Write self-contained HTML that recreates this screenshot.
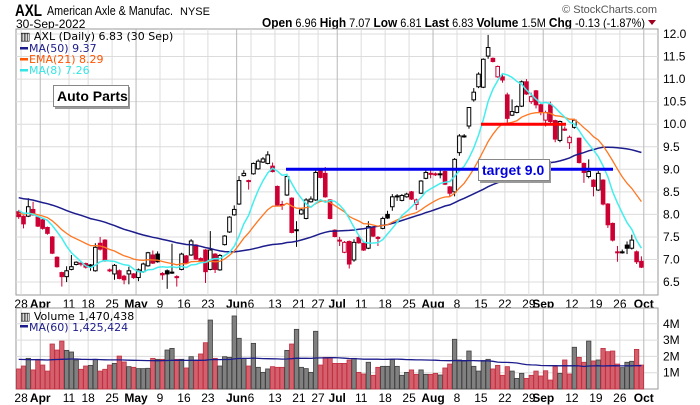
<!DOCTYPE html>
<html><head><meta charset="utf-8"><style>
body{margin:0;background:#fff;}
svg{display:block;font-family:"Liberation Sans",sans-serif;}
</style></head><body>
<svg id="chart" width="700" height="405" viewBox="0 0 700 405">
<rect width="700" height="405" fill="#fff"/>
<g>
<text x="15" y="16" font-size="17" font-weight="bold" fill="#000" textLength="27" lengthAdjust="spacingAndGlyphs">AXL</text>
<text x="47" y="15" font-size="13" fill="#000" textLength="126" lengthAdjust="spacingAndGlyphs">American Axle &amp; Manufac.</text>
<text x="180" y="15" font-size="11" fill="#000">NYSE</text>
<text x="16" y="28" font-size="12" fill="#000">30-Sep-2022</text>
<text x="657" y="13" font-size="11" fill="#555" text-anchor="end">© StockCharts.com</text>
<text x="262" y="27" font-size="12" fill="#000" textLength="383" lengthAdjust="spacingAndGlyphs"><tspan font-weight="bold" font-size="13">Open</tspan> 6.96  <tspan font-weight="bold" font-size="13">High</tspan> 7.07  <tspan font-weight="bold" font-size="13">Low</tspan> 6.81  <tspan font-weight="bold" font-size="13">Last</tspan> 6.83  <tspan font-weight="bold" font-size="13">Volume</tspan> 1.5M  <tspan font-weight="bold" font-size="13">Chg</tspan> -0.13 (-1.87%)</text>
<path d="M648 20 L656 20 L652 25 Z" fill="#a00020"/>
</g>
<g id="price"></g>
<g id="vol"></g>
</svg>
<script>
const opens=[8.06,7.96,7.96,8.11,7.94,7.88,7.71,7.5,7.05,6.71,6.62,6.78,6.89,6.92,6.91,6.88,6.75,7.36,7.43,6.77,6.68,6.75,6.63,6.68,6.68,6.6,6.73,6.86,7.1,7.12,6.69,6.75,6.72,6.62,6.78,7.08,7.1,7.32,7.02,7.21,6.78,7.12,6.77,7.33,7.61,7.99,8.23,8.86,8.75,8.9,9.01,9.16,9.13,9.07,8.62,8.22,8.43,8.36,7.66,8.01,7.91,8.28,8.32,8.98,8.91,8.32,7.65,7.43,7.16,7.4,6.99,7.49,7.36,7.25,7.71,7.49,7.69,8.0,8.17,8.41,8.31,8.39,8.5,8.22,8.47,8.8,8.91,8.9,8.9,8.95,8.61,8.5,9.37,9.74,9.96,10.54,10.83,10.82,11.51,11.46,11.05,11.05,10.65,10.2,10.26,10.4,10.94,10.5,10.74,10.43,10.09,10.43,10.08,9.64,9.89,9.59,9.93,9.69,9.13,8.84,8.76,8.54,8.76,8.23,7.8,7.17,7.17,7.32,7.25,7.17,6.96];
const highs=[8.1,7.98,8.36,8.28,7.96,7.9,7.73,7.52,7.07,6.73,6.85,7.1,6.96,6.97,6.93,6.9,7.36,7.5,7.45,6.8,6.9,6.78,6.66,6.84,6.7,6.8,6.93,7.17,7.2,7.18,6.72,6.78,7.35,6.65,7.15,7.1,7.45,7.34,7.05,7.23,7.63,7.14,7.12,7.54,7.96,8.2,8.85,8.98,8.77,9.15,9.22,9.27,9.4,9.15,8.64,8.3,8.9,8.38,7.85,8.12,8.36,8.4,9.0,9.0,9.05,8.34,7.67,7.5,7.41,7.42,7.45,7.52,7.38,7.85,7.73,7.52,7.95,8.08,8.45,8.45,8.45,8.48,8.52,8.35,8.76,9.0,9.0,8.93,8.98,8.97,8.63,9.25,9.78,9.78,10.38,10.8,11.15,11.46,11.98,11.48,11.3,11.1,10.7,10.55,10.42,10.97,11.0,10.7,10.76,10.45,10.3,10.5,10.1,10.08,9.95,9.75,10.12,9.7,9.15,9.22,8.78,8.96,8.78,8.25,7.82,7.3,7.22,7.4,7.55,7.2,7.07];
const lows=[7.9,7.69,7.94,7.97,7.72,7.66,7.55,7.12,6.82,6.4,6.5,6.76,6.87,6.85,6.8,6.75,6.73,7.2,6.95,6.72,6.55,6.56,6.45,6.45,6.57,6.52,6.7,6.84,6.9,6.93,6.55,6.35,6.68,6.4,6.76,6.9,7.08,6.99,6.95,6.48,6.76,6.7,6.75,7.31,7.59,7.97,8.21,8.84,8.55,8.88,8.99,9.14,9.11,8.93,8.19,8.1,8.41,7.58,7.28,7.99,7.89,8.26,8.3,8.8,8.37,7.89,7.49,7.3,7.14,6.8,6.95,7.35,7.19,7.23,7.5,7.3,7.67,7.9,8.08,8.3,8.29,8.37,8.32,8.1,8.45,8.78,8.8,8.85,8.8,8.65,8.4,8.4,9.3,9.7,9.9,10.5,10.8,10.8,11.45,11.37,11.03,10.92,10.0,10.18,10.24,10.38,10.65,10.45,10.35,10.2,9.95,10.0,9.6,9.6,9.85,9.45,9.9,9.13,8.7,8.8,8.4,8.52,8.2,7.7,7.4,6.95,7.13,7.12,7.22,6.9,6.81];
const closes=[7.95,7.79,8.17,7.99,7.74,7.69,7.58,7.14,6.84,6.62,6.75,6.84,6.94,6.9,6.83,6.84,7.27,7.23,6.97,6.75,6.87,6.58,6.55,6.75,6.6,6.77,6.9,7.15,6.92,6.95,6.66,6.68,6.7,6.61,7.12,6.92,7.41,7.01,6.98,6.73,7.21,6.78,7.09,7.52,7.94,8.11,8.75,8.91,8.73,9.13,9.18,9.23,9.32,8.95,8.21,8.2,8.84,7.6,7.65,8.1,8.32,8.34,8.93,8.82,8.39,7.91,7.51,7.43,7.38,6.9,7.38,7.37,7.21,7.73,7.52,7.49,7.91,7.92,8.39,8.41,8.42,8.45,8.34,8.32,8.74,8.93,8.91,8.9,8.9,8.67,8.47,9.22,9.74,9.74,10.37,10.71,11.11,11.44,11.7,11.39,11.28,10.98,10.13,10.28,10.39,10.94,10.67,10.61,10.43,10.28,10.26,10.06,9.67,10.06,9.89,9.71,10.09,9.15,8.93,8.95,8.62,8.91,8.23,7.77,7.43,7.17,7.17,7.25,7.43,6.95,6.83];
const volumes=[1.23,1.41,1.88,1.17,1.82,1.47,1.1,2.76,2.39,2.94,2.37,2.27,1.78,1.21,1.41,1.45,1.82,1.1,1.21,1.47,1.57,2.02,1.66,1.37,1.33,1.25,1.25,1.27,1.88,1.82,1.82,2.39,2.49,1.82,1.82,1.29,1.98,1.78,2.15,2.84,4.23,1.88,1.41,1.98,1.94,4.48,3.11,1.88,1.41,2.8,1.33,1.02,1.23,1.37,1.33,1.33,2.37,2.76,3.66,1.33,1.25,1.02,3.54,1.47,1.94,1.94,1.57,1.57,1.57,1.78,1.88,1.02,0.92,1.64,0.84,1.33,1.39,1.39,1.8,1.39,0.84,1.02,1.17,0.9,1.17,0.9,0.9,0.96,0.86,1.29,1.53,3.05,1.78,1.72,2.33,1.39,1.1,1.74,1.82,1.23,1.45,0.84,1.37,1.1,0.65,0.96,0.65,0.84,1.1,0.8,1.12,0.55,1.37,0.96,1.78,0.92,2.56,1.94,1.64,2.94,1.72,1.78,2.49,2.29,2.33,1.53,1.31,1.64,1.7,2.43,1.47];
const priorCloses=[8.9,8.8,8.95,9.1,9.0,8.85,8.7,8.6,8.75,8.9,8.8,8.65,8.5,8.6,8.7,8.55,8.4,8.5,8.65,8.8,8.7,8.5,8.3,8.2,8.35,8.5,8.4,8.2,8.0,7.9,7.8,7.95,8.1,8.0,7.85,7.7,7.8,7.95,8.1,8.25,8.2,8.35,8.3,8.15,8.2,8.1,8.0,7.95,8.05];
const priorVolumes=[1.9,2.1,1.7,1.6,2.0,1.8,1.5,1.9,2.2,1.7,1.6,1.8,2.4,1.9,1.7,1.5,1.6,2.0,1.8,1.7,1.9,2.3,2.0,1.6,1.5,1.7,1.8,1.9,2.1,1.6,1.7,1.8,2.0,1.9,1.6,1.5,1.8,2.2,2.5,1.9,1.7,1.6,1.8,1.9,2.0,1.7,1.5,1.6,1.8,2.1,1.9,1.7,1.6,1.8,2.0,1.9,1.7,1.8,1.9];
const tickLabels=["28","Apr","11","18","25","May","9","16","23","Jun","6","13","21","27","Jul","11","18","25","Aug","8","15","22","29","Sep","12","19","26","Oct"];
const tickIndex=[1,5,11,15,20,25,30,35,40,46,49,54,59,63,67,72,77,82,87,92,97,102,107,110,116,121,126,131];
const priceTicks=[6.5,7.0,7.5,8.0,8.5,9.0,9.5,10.0,10.5,11.0,11.5,12.0];
const volTicks=[1,2,3,4];
const supportLevel=10.0, targetLevel=9.0;

const NS="http://www.w3.org/2000/svg";
const X0=18.7, DX=4.79, PL=16, PR=658, PT=29, PB=295, VT=308, VB=389;
const xAt=i=>X0+DX*i;
const yP=p=>34+(12-p)*45.1;
const yV=v=>VB-v*16.3;
function mk(parent,tag,attrs,text){const e=document.createElementNS(NS,tag);for(const k in attrs)e.setAttribute(k,attrs[k]);if(text!==undefined)e.textContent=text;parent.appendChild(e);return e;}
const P=document.getElementById('price'), V=document.getElementById('vol');

for(const [g,t,b] of [[P,PT,PB],[V,VT,VB]]){
  const r=mk(g,'rect',{x:PL,y:t,width:PR-PL,height:b-t,fill:'#fff',stroke:'#999','stroke-width':1});
  
  
}
priceTicks.forEach(p=>{
  const l=mk(P,'line',{x1:PL,x2:PR,y1:yP(p),y2:yP(p),stroke:'#dcdcdc'});
  
  
  const t=mk(P,'text',{x:PR+5,y:yP(p)+4,'font-size':12,fill:'#000'},p.toFixed(1));
  
  
});
volTicks.forEach(v=>{
  const l=mk(V,'line',{x1:PL,x2:PR,y1:yV(v),y2:yV(v),stroke:'#dcdcdc'});
  
  
  const t=mk(V,'text',{x:PR+5,y:yV(v)+4,'font-size':12,fill:'#000'},v+'M');
  
  
});
tickLabels.forEach((lab,k)=>{
  const x=xAt(tickIndex[k])-2.4;
  const month=/[A-Za-z]/.test(lab);
  for(const [g,t,b,ly] of [[P,PT,PB,308],[V,VT,VB,402]]){
    if(x<PR){
      const l=mk(g,'line',{x1:x,x2:x,y1:t,y2:b,stroke:month?'#b8b8b8':'#dcdcdc'});
      
      
    }
    const tx=mk(g,'text',{x:x,y:ly,'font-size':12,'text-anchor':'middle','font-weight':month?'bold':'normal',fill:'#000'},lab);
    
    
  }
});

const allC=priorCloses.concat(closes);
const off=priorCloses.length;
function sma(arr,n,i){let s=0,c=0;for(let j=Math.max(0,i-n+1);j<=i;j++){s+=arr[j];c++;}return s/c;}
const ma50=[],ma8=[],ema21=[];
let e=sma(allC,21,off-1);
const k21=2/22;
closes.forEach((c,i)=>{ma50.push(sma(allC,50,off+i));ma8.push(sma(allC,8,off+i));e=c*k21+e*(1-k21);ema21.push(e);});
function line(g,vals,yf,color,name,w){
  const d=vals.map((v,i)=>(i?'L':'M')+xAt(i).toFixed(1)+' '+yf(v).toFixed(1)).join(' ');
  const p=mk(g,'path',{d:d,fill:'none',stroke:color,'stroke-width':w||1.3});
  
  
}

closes.forEach((c,i)=>{
  const o=opens[i],prev=i?closes[i-1]:opens[0];
  const col=c<prev?'#cc0033':'#000';
  const x=xAt(i);
  const g=mk(P,'g',{});
  
  
  mk(g,'line',{x1:x,x2:x,y1:yP(highs[i]),y2:yP(lows[i]),stroke:col,'stroke-width':1});
  const top=yP(Math.max(o,c)),bot=yP(Math.min(o,c));
  const filled=c<o;
  mk(g,'rect',{x:x-1.8,y:top,width:3.6,height:Math.max(bot-top,1),fill:filled?col:'#fff',stroke:col,'stroke-width':1});
});
line(P,ma50,yP,'#1c1c8c','ma50-line',1.5);
line(P,ema21,yP,'#ff7722','ema21-line',1.3);
line(P,ma8,yP,'#44eeee','ma8-line',1.5);

let hl=mk(P,'line',{x1:286,x2:613,y1:yP(targetLevel),y2:yP(targetLevel),stroke:'#0000ee','stroke-width':3});


hl=mk(P,'line',{x1:481,x2:566,y1:yP(supportLevel),y2:yP(supportLevel),stroke:'#ff0000','stroke-width':3});



const allV=priorVolumes.concat(volumes), offV=priorVolumes.length;
const ma60=volumes.map((v,i)=>sma(allV,60,offV+i));
volumes.forEach((v,i)=>{
  const prev=i?closes[i-1]:opens[0];
  const down=closes[i]<prev;
  const r=mk(V,'rect',{x:xAt(i)-2.2,y:yV(v),width:4.4,height:VB-yV(v),fill:down?'#d4606e':'#808080',stroke:down?'#c03040':'#404040','stroke-width':0.8});
  
  
});
line(V,ma60,yV,'#1c1c8c','volume-ma60-line',1.3);
</script>
<script>
(function(){
const S=document.getElementById('chart');const NS="http://www.w3.org/2000/svg";
function mk(tag,a,t){const e=document.createElementNS(NS,tag);for(const k in a)e.setAttribute(k,a[k]);if(t!==undefined)e.textContent=t;S.appendChild(e);return e;}
const f='"DejaVu Sans",sans-serif';
let e;
e=mk('text',{x:20,y:40,'font-size':11,'font-family':f,fill:'#000'},'▥ AXL (Daily) 6.83 (30 Sep)');


[['MA(50) 9.37','#1c1c8c',52],['EMA(21) 8.29','#ff5500',63],['MA(8) 7.26','#33e5e5',74]].forEach(([t,c,y])=>{
  e=mk('rect',{x:20,y:y-5,width:8,height:2.5,fill:c});
  
  
  e=mk('text',{x:29,y:y,'font-size':11,'font-family':f,fill:c},t);
  
  
});
e=mk('rect',{x:55,y:87,width:75,height:22,fill:'#999'});


e=mk('rect',{x:53.5,y:85.5,width:75,height:21,fill:'#fff',stroke:'#888'});


e=mk('text',{x:57,y:101,'font-size':14,'font-weight':'bold',fill:'#000'},'Auto Parts');


e=mk('rect',{x:480,y:161,width:71,height:22,fill:'#999'});


e=mk('rect',{x:478.5,y:159.5,width:71,height:21,fill:'#fff',stroke:'#888'});


e=mk('text',{x:482,y:175,'font-size':14,'font-weight':'bold',fill:'#0000dd'},'target 9.0');


e=mk('text',{x:20,y:320,'font-size':11,'font-family':f,fill:'#000'},'▥ Volume 1,470,438');


e=mk('rect',{x:20,y:325,width:8,height:2.5,fill:'#1c1c8c'});


e=mk('text',{x:29,y:331,'font-size':11,'font-family':f,fill:'#1c1c8c'},'MA(60) 1,425,424');


})();
</script>
</body></html>
